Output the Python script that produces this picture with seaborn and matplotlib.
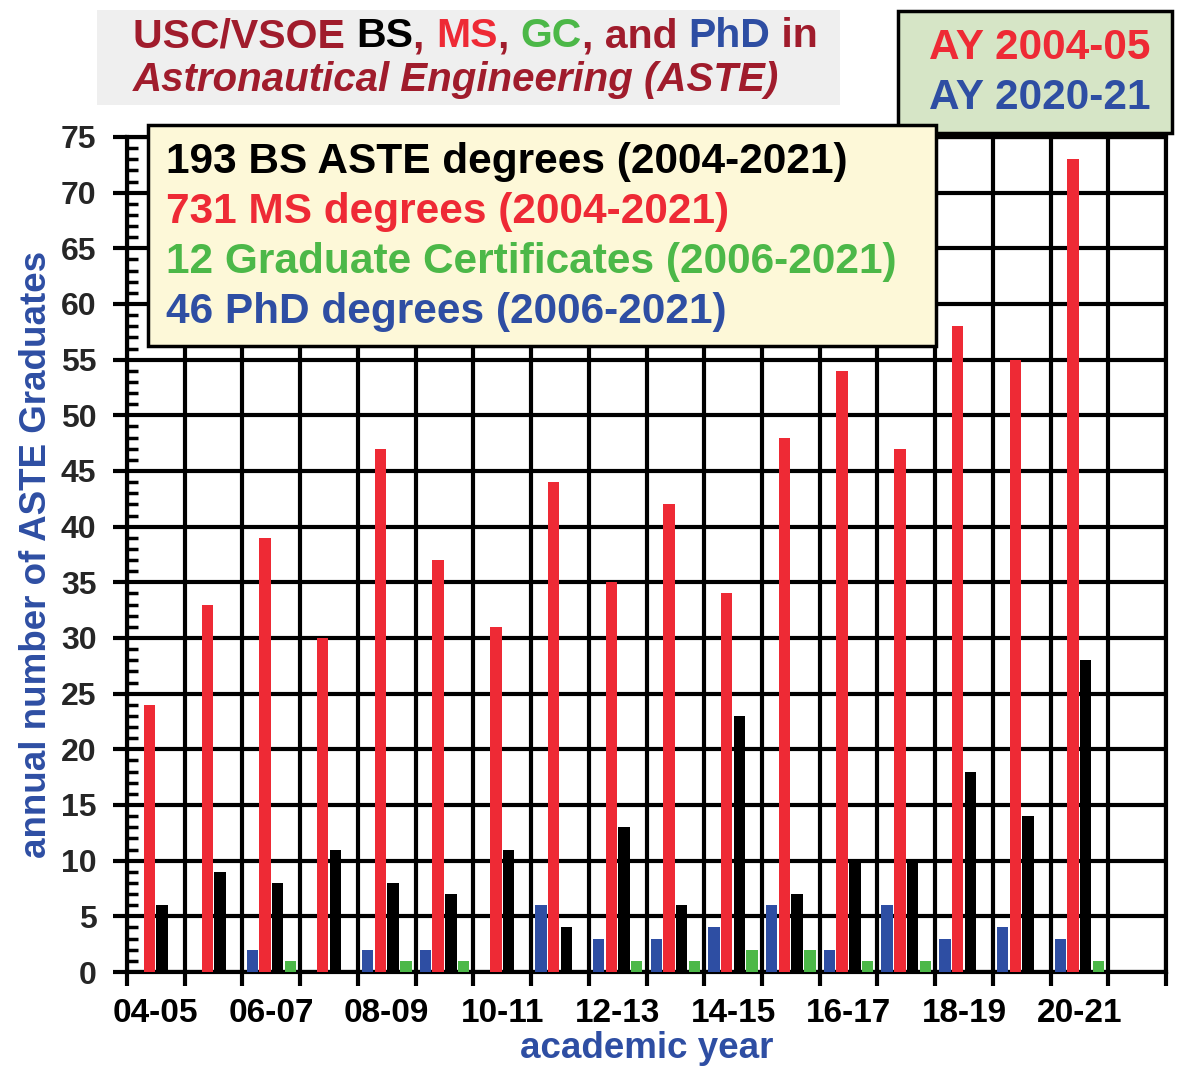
import matplotlib
matplotlib.use("Agg")
import matplotlib.pyplot as plt
import seaborn as sns
import pandas as pd
import numpy as np
from matplotlib.patches import Rectangle
from matplotlib.ticker import MultipleLocator, FixedLocator

# ---------------- data ----------------
years = ["04-05", "05-06", "06-07", "07-08", "08-09", "09-10", "10-11", "11-12",
         "12-13", "13-14", "14-15", "15-16", "16-17", "17-18", "18-19", "19-20", "20-21"]
slot_order = years + ["21-22"]   # empty trailing slot as in the reference
phd = [0, 0, 2, 0, 2, 2, 0, 6, 3, 3, 4, 6, 2, 6, 3, 4, 3]
ms = [24, 33, 39, 30, 47, 37, 31, 44, 35, 42, 34, 48, 54, 47, 58, 55, 73]
bs = [6, 9, 8, 11, 8, 7, 11, 4, 13, 6, 23, 7, 10, 10, 18, 14, 28]
gc = [0, 0, 1, 0, 1, 1, 0, 0, 1, 1, 2, 2, 1, 1, 0, 0, 1]
series_names = ["PhD", "MS", "BS", "GC"]
tick_labels = ["04-05", "06-07", "08-09", "10-11", "12-13", "14-15", "16-17", "18-19", "20-21"]

C_RED = "#ee2a35"
C_BLUE = "#2e4ea3"
C_GREEN = "#4cb848"
C_BLACK = "#000000"
C_DARKRED = "#a01c2c"
palette = {"PhD": C_BLUE, "MS": C_RED, "BS": C_BLACK, "GC": C_GREEN}

df = pd.DataFrame({
    "year": years * 4,
    "value": phd + ms + bs + gc,
    "type": sum([[n] * len(years) for n in series_names], []),
})

sns.set_theme(style="white")
plt.rcParams["font.family"] = ["Liberation Sans", "DejaVu Sans"]
plt.rcParams["font.weight"] = "bold"

W, H = 1178, 1078
fig = plt.figure(figsize=(W / 100, H / 100), dpi=100)
L, R, T, B = 127, 1166, 137, 972
ax = fig.add_axes([L / W, 1 - B / H, (R - L) / W, (B - T) / H])

sns.barplot(data=df, x="year", y="value", hue="type", order=slot_order,
            hue_order=series_names, palette=palette, width=0.88, gap=0.1,
            linewidth=0, saturation=1, legend=False, ax=ax, zorder=3)

ax.set_xlim(-0.5, len(slot_order) - 0.5)
ax.set_ylim(0, 75)

# x axis: boundaries as ticks/grid, labels centred in every other slot
bounds = np.arange(-0.5, len(slot_order), 1.0)
ax.xaxis.set_major_locator(FixedLocator(bounds))
ax.set_xticklabels([""] * len(bounds))
ax.xaxis.set_minor_locator(FixedLocator(np.arange(0, len(years), 2)))
ax.set_xticklabels(tick_labels, minor=True)
ax.tick_params(axis="x", which="major", direction="out", length=10, width=3, color="black", bottom=True)
ax.tick_params(axis="x", which="minor", length=0, labelsize=24, pad=19, labelcolor="black")

# y axis
ax.yaxis.set_major_locator(MultipleLocator(5))
ax.yaxis.set_minor_locator(MultipleLocator(1))
ax.tick_params(axis="y", which="major", direction="out", length=10, width=3, color="black",
               labelsize=23, pad=12, left=True)
ax.tick_params(axis="y", which="minor", direction="in", length=8, width=2.5, color="black", left=True)

ax.grid(True, axis="both", which="major", color="black", linewidth=3, zorder=1)
ax.set_axisbelow(True)
for s in ax.spines.values():
    s.set_visible(True)
    s.set_color("black")
    s.set_linewidth(3)

ax.set_xlabel("academic year", fontsize=26.5, fontweight="bold", color=C_BLUE, labelpad=1)
ax.set_ylabel("annual number of ASTE Graduates", fontsize=26.5, fontweight="bold", color=C_BLUE, labelpad=5)
for lab in ax.get_xticklabels(minor=True) + ax.get_yticklabels():
    lab.set_fontweight("bold")


def fx(px):
    return px / W


def fy(py):
    return 1 - py / H


# ---------------- title box ----------------
fig.patches.append(Rectangle((fx(97), fy(105)), fx(840) - fx(97), fy(10) - fy(105),
                             transform=fig.transFigure, facecolor="#efefef",
                             edgecolor="none", zorder=5))
renderer = fig.canvas.get_renderer()
pieces = [("USC/VSOE ", C_DARKRED), ("BS", C_BLACK), (", ", C_DARKRED), ("MS", C_RED),
          (", ", C_DARKRED), ("GC", C_GREEN), (", and ", C_DARKRED), ("PhD", C_BLUE),
          (" in", C_DARKRED)]
xcur = 133
for txt, col in pieces:
    t = fig.text(fx(xcur), fy(36), txt, color=col, fontsize=29.5, fontweight="bold",
                 va="center", ha="left", zorder=6)
    bb = t.get_window_extent(renderer=renderer)
    xcur += bb.width
fig.text(fx(133), fy(80), "Astronautical Engineering (ASTE)", color=C_DARKRED,
         fontsize=29, fontweight="bold", style="italic", va="center", ha="left", zorder=6)

# ---------------- AY box ----------------
fig.patches.append(Rectangle((fx(898), fy(133)), fx(1172) - fx(898), fy(11) - fy(133),
                             transform=fig.transFigure, facecolor="#d6e5c6",
                             edgecolor="black", linewidth=2.5, zorder=5))
fig.text(fx(1040), fy(48), "AY 2004-05", color=C_RED, fontsize=30.5, fontweight="bold",
         va="center", ha="center", zorder=6)
fig.text(fx(1040), fy(98), "AY 2020-21", color=C_BLUE, fontsize=30.5, fontweight="bold",
         va="center", ha="center", zorder=6)

# ---------------- summary box ----------------
fig.patches.append(Rectangle((fx(148), fy(346)), fx(936) - fx(148), fy(125) - fy(346),
                             transform=fig.transFigure, facecolor="#fdf8d8",
                             edgecolor="black", linewidth=2.5, zorder=5))
summary_lines = [
    ("193 BS ASTE degrees (2004-2021)", C_BLACK),
    ("731 MS degrees (2004-2021)", C_RED),
    ("12 Graduate Certificates (2006-2021)", C_GREEN),
    ("46 PhD degrees (2006-2021)", C_BLUE),
]
for i, (txt, col) in enumerate(summary_lines):
    fig.text(fx(166), fy(162 + 50 * i), txt, color=col, fontsize=30.5, fontweight="bold",
             va="center", ha="left", zorder=6)

fig.savefig("out.png", dpi=100)
